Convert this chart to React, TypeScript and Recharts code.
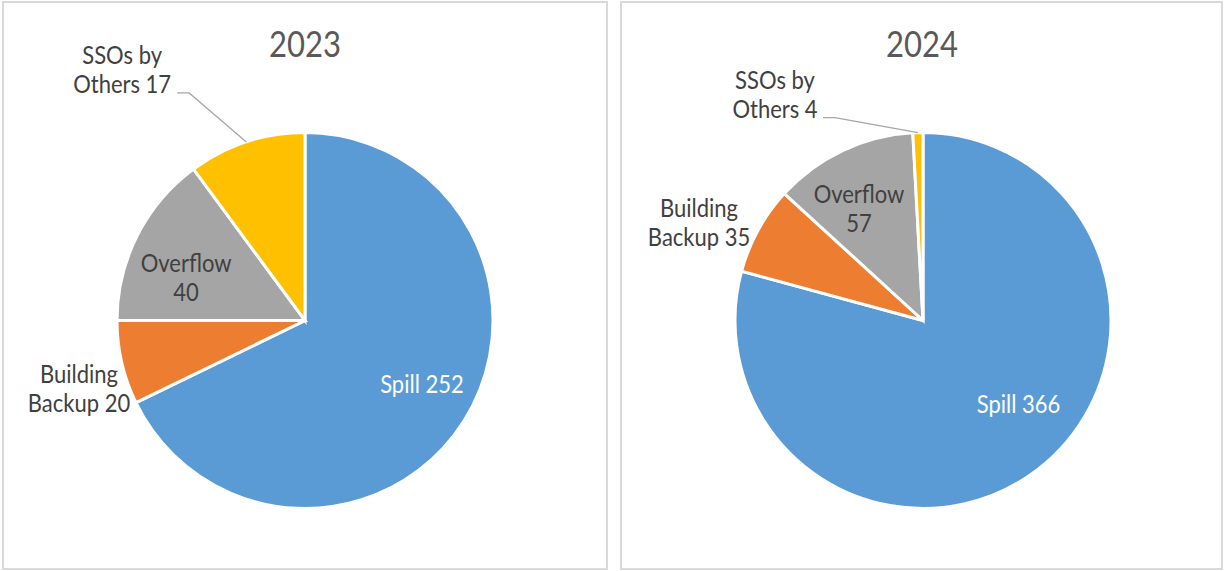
import React from 'react';
import { PieChart, Pie, Cell } from 'recharts';

// ---- data ----
const categories = ['Spill', 'Building Backup', 'Overflow', 'SSOs by Others'];
const years = ['2023', '2024'];
// counts printed in the data labels
const counts2023 = [252, 20, 40, 17];
const counts2024 = [366, 35, 57, 4];
// slice sizes as drawn (2023 slices are drawn with shares that differ from the printed counts)
const drawn2023 = [67.8, 7.2, 14.9, 10.1];
const drawn2024 = [366, 35, 57, 4];
// label line wrapping ({v} = count)
const labelWraps = [['Spill {v}'], ['Building', 'Backup {v}'], ['Overflow', '{v}'], ['SSOs by', 'Others {v}']];

const COLORS = ['#5B9BD5', '#ED7D31', '#A5A5A5', '#FFC000'];
const FONT = 'Lato, "Liberation Sans", sans-serif';
const LABEL_FS = 25;
const LABEL_SX = 0.88;
const TITLE_FS = 37;
const TITLE_SX = 0.84;
const LINE_H = 28.5;
const RADIUS = 188;
const RAD = Math.PI / 180;

type LayoutItem = { k: number; nx: number; ny: number; leader?: number };
const layout2023: LayoutItem[] = [
  { k: 0.7, nx: 5.4, ny: -5.9 },
  { k: 1.25, nx: 3, ny: 15.4 },
  { k: 0.673, nx: -6, ny: 14 },
  { k: 1.6, nx: -89, ny: 35, leader: 55 },
];
const layout2024: LayoutItem[] = [
  { k: 0.7, nx: 15.6, ny: -20.6 },
  { k: 1.25, nx: -18.1, ny: 15.2 },
  { k: 0.7, nx: -7.7, ny: 6.9 },
  { k: 1.25, nx: -141.6, ny: 8.8, leader: 48 },
];

const buildData = (drawn: number[], counts: number[]) =>
  categories.map((name, i) => ({ name, value: drawn[i], count: counts[i] }));

const data2023 = buildData(drawn2023, counts2023);
const data2024 = buildData(drawn2024, counts2024);

const polar = (cx: number, cy: number, r: number, angle: number) => ({
  x: cx + r * Math.cos(-angle * RAD),
  y: cy + r * Math.sin(-angle * RAD),
});

const CondText = ({ x, y, sx, fs, fill, children }: any) => (
  <text
    transform={`translate(${x},${y}) scale(${sx},1)`}
    x={0}
    y={0}
    textAnchor="middle"
    fill={fill}
    fontFamily={FONT}
    fontSize={fs}
  >
    {children}
  </text>
);

const makeLabel = (lay: LayoutItem[]) => (props: any) => {
  const { cx, cy, midAngle, outerRadius, index, payload } = props;
  const L = lay[index];
  const p = polar(cx, cy, outerRadius * L.k, midAngle);
  const ax = p.x + L.nx;
  const ay = p.y + L.ny;
  const count = payload && payload.count !== undefined ? payload.count : props.count;
  const lines = labelWraps[index].map((s) => s.replace('{v}', String(count)));
  const n = lines.length;
  const capHalf = LABEL_FS * 0.36;
  const baselines = lines.map((_, i) => ay + (i - (n - 1) / 2) * LINE_H + capHalf);
  const fill = index === 0 ? '#FFFFFF' : '#404040';
  let leader: React.ReactNode = null;
  if (L.leader !== undefined) {
    const ly = baselines[n - 1];
    const x0 = ax + L.leader;
    const end = polar(cx, cy, outerRadius, midAngle);
    leader = (
      <polyline
        points={`${x0},${ly} ${x0 + 12},${ly} ${end.x},${end.y}`}
        fill="none"
        stroke="#A6A6A6"
        strokeWidth={1.3}
      />
    );
  }
  return (
    <g key={`lbl-${index}`}>
      {leader}
      {lines.map((t, i) => (
        <CondText key={i} x={ax} y={baselines[i]} sx={LABEL_SX} fs={LABEL_FS} fill={fill}>
          {t}
        </CondText>
      ))}
    </g>
  );
};

export default function App() {
  const W = 1224;
  const H = 571;
  return (
    <div style={{ position: 'absolute', left: 0, top: 0, width: W, height: H, background: '#fff' }}>
      <svg width={W} height={H} style={{ position: 'absolute', left: 0, top: 0 }}>
        <rect x={3} y={2} width={604} height={567} fill="#fff" stroke="#D9D9D9" strokeWidth={2} />
        <rect x={621} y={2} width={601} height={567} fill="#fff" stroke="#D9D9D9" strokeWidth={2} />
        <CondText x={305} y={57} sx={TITLE_SX} fs={TITLE_FS} fill="#595959">
          {years[0]}
        </CondText>
        <CondText x={922} y={57} sx={TITLE_SX} fs={TITLE_FS} fill="#595959">
          {years[1]}
        </CondText>
      </svg>
      <div style={{ position: 'absolute', left: 0, top: 0 }}>
        <PieChart width={W} height={H} margin={{ top: 0, right: 0, bottom: 0, left: 0 }}>
          <Pie
            data={data2023}
            dataKey="value"
            nameKey="name"
            cx={305}
            cy={320.5}
            outerRadius={RADIUS}
            startAngle={90}
            endAngle={-270}
            stroke="#FFFFFF"
            strokeWidth={3}
            isAnimationActive={false}
            labelLine={false}
            label={makeLabel(layout2023)}
          >
            {data2023.map((d, i) => (
              <Cell key={d.name} fill={COLORS[i]} />
            ))}
          </Pie>
          <Pie
            data={data2024}
            dataKey="value"
            nameKey="name"
            cx={923}
            cy={320.5}
            outerRadius={RADIUS}
            startAngle={90}
            endAngle={-270}
            stroke="#FFFFFF"
            strokeWidth={3}
            isAnimationActive={false}
            labelLine={false}
            label={makeLabel(layout2024)}
          >
            {data2024.map((d, i) => (
              <Cell key={d.name} fill={COLORS[i]} />
            ))}
          </Pie>
        </PieChart>
      </div>
    </div>
  );
}
